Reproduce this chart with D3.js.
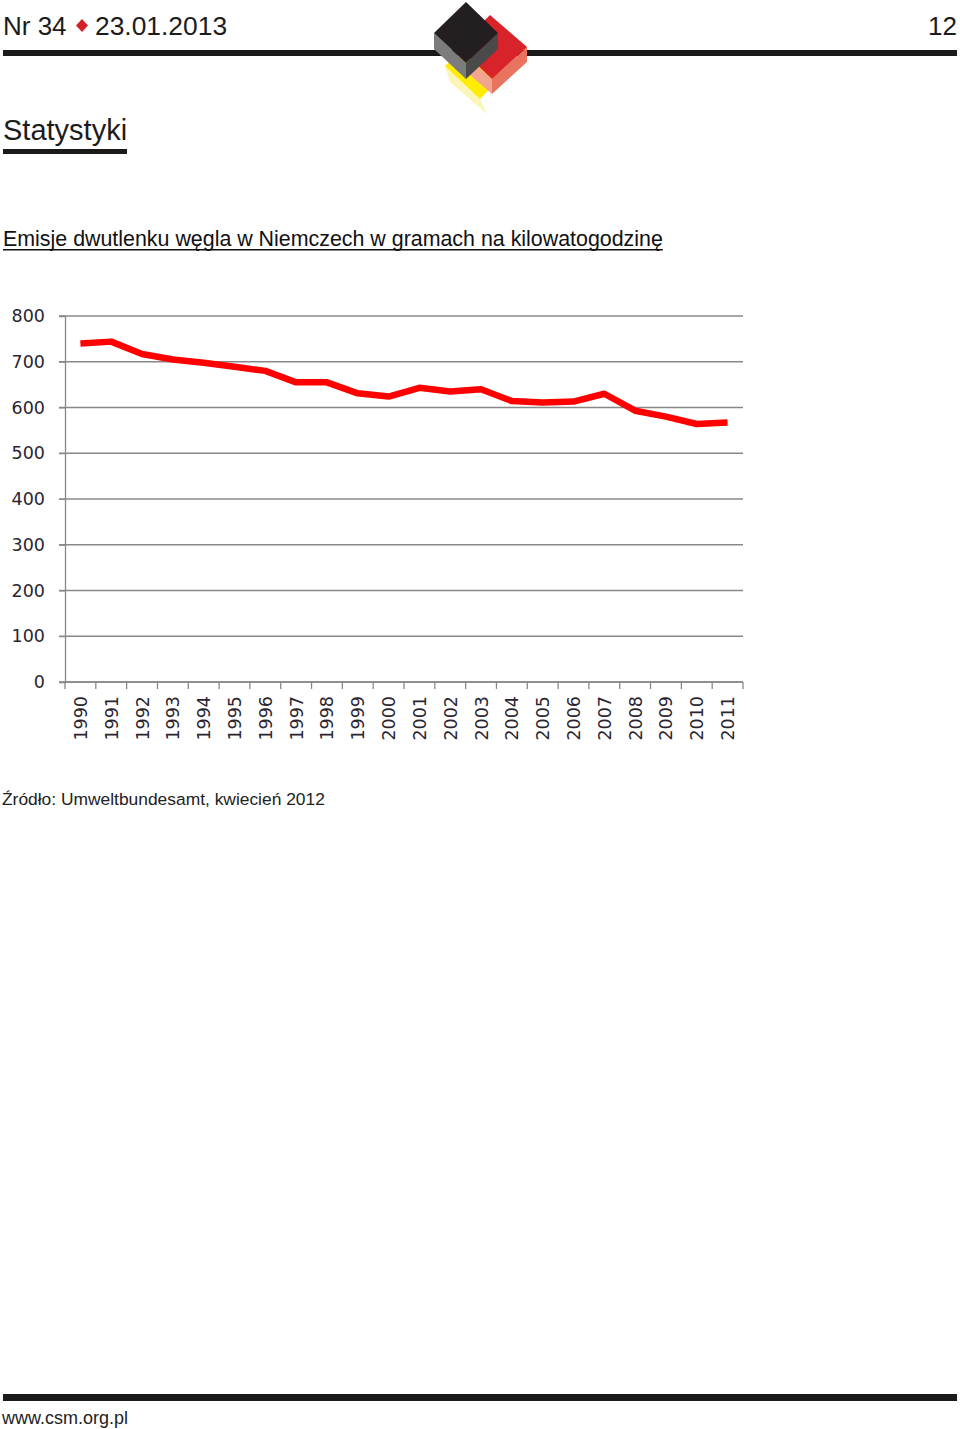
<!DOCTYPE html>
<html>
<head>
<meta charset="utf-8">
<script src="https://cdn.jsdelivr.net/npm/d3@7"></script>
<style>
  html, body { margin: 0; padding: 0; background: #fff; }
  svg { display: block; }
</style>
</head>
<body>
<svg id="page" width="960" height="1429"></svg>
<script>
// ---- data ----
const years = ["1990","1991","1992","1993","1994","1995","1996","1997","1998","1999","2000",
               "2001","2002","2003","2004","2005","2006","2007","2008","2009","2010","2011"];
const emissions = [740, 744, 717, 705, 698, 689, 680, 655, 655, 631, 624,
                   643, 635, 640, 614, 611, 613, 630, 593, 580, 564, 567];
const yTicks = [0, 100, 200, 300, 400, 500, 600, 700, 800];

const headerLeft = "Nr 34";
const headerDate = "23.01.2013";
const pageNumber = "12";
const sectionTitle = "Statystyki";
const chartTitle = "Emisje dwutlenku węgla w Niemczech w gramach na kilowatogodzinę";
const sourceText = "Źródło: Umweltbundesamt, kwiecień 2012";
const footerText = "www.csm.org.pl";

const svg = d3.select("#page");
const sans = "'Liberation Sans', Arial, Helvetica, sans-serif";

// ---- header ----
svg.append("text").attr("x", 3).attr("y", 35).attr("font-family", sans)
  .attr("font-size", 26).attr("fill", "#1c1c1c").text(headerLeft);
svg.append("path").attr("d", "M82,19 L88,25.5 L82,32 L76,25.5 Z").attr("fill", "#d42027");
svg.append("text").attr("x", 95).attr("y", 35).attr("font-family", sans)
  .attr("font-size", 26.4).attr("fill", "#1c1c1c").text(headerDate);
svg.append("text").attr("x", 957).attr("y", 35).attr("text-anchor", "end").attr("font-family", sans)
  .attr("font-size", 26).attr("fill", "#1c1c1c").text(pageNumber);
svg.append("rect").attr("x", 3).attr("y", 50).attr("width", 954).attr("height", 6).attr("fill", "#1a1a1a");

// ---- logo ----
const logo = svg.append("g");
const poly = (pts, fill) => logo.append("polygon").attr("points", pts.map(p => p.join(",")).join(" ")).attr("fill", fill);
poly([[445,66],[480,99],[487,114],[450,82]], "#fbf6b8");
poly([[445,66],[468,46],[502,76],[480,99]], "#ffec00");
poly([[492,79],[527,47],[527,62],[492,94]], "#e8735e");
poly([[470,60],[492,79],[492,94],[470,75]], "#f2a48e");
poly([[490,15],[527,47],[492,79],[458,47]], "#d9232b");
poly([[434,33],[466,63],[466,79],[434,49]], "#7c7c7c");
poly([[466,63],[498,33],[498,49],[466,79]], "#4a4a4a");
poly([[466,2],[498,33],[466,63],[434,33]], "#231f20");

// ---- section title ----
svg.append("text").attr("x", 3).attr("y", 140).attr("font-family", sans)
  .attr("font-size", 29).attr("fill", "#1c1c1c").text(sectionTitle);
svg.append("rect").attr("x", 3).attr("y", 149).attr("width", 124).attr("height", 5).attr("fill", "#1a1a1a");

// ---- chart title ----
const ct = svg.append("text").attr("x", 3).attr("y", 246).attr("font-family", sans)
  .attr("font-size", 21.4).attr("fill", "#111").text(chartTitle);
const ctw = ct.node().getComputedTextLength();
svg.append("rect").attr("x", 3).attr("y", 249).attr("width", ctw).attr("height", 1.5).attr("fill", "#111");

// ---- chart ----
const pL = 65, pR = 743, pT = 316, pB = 682;
const x = d3.scaleBand().domain(years).range([pL, pR]).padding(0);
const y = d3.scaleLinear().domain([0, 800]).range([pB, pT]);
const g = svg.append("g");
const axisFont = "'DejaVu Sans', Verdana, sans-serif";
const axisColor = "#888";
const labelColor = "#2a2530";

g.append("g").selectAll("line").data(yTicks).join("line")
  .attr("x1", pL - 6).attr("x2", pR)
  .attr("y1", d => y(d)).attr("y2", d => y(d))
  .attr("stroke", axisColor).attr("stroke-width", 1.3);

const yAxis = g.append("g").attr("transform", `translate(${pL},0)`)
  .call(d3.axisLeft(y).tickValues(yTicks).tickSize(6).tickPadding(14).tickFormat(d3.format("d")));
yAxis.select(".domain").attr("stroke", axisColor).attr("stroke-width", 1.3);
yAxis.selectAll(".tick line").attr("stroke", axisColor);
yAxis.selectAll("text").attr("font-family", axisFont).attr("font-size", 17.5).attr("fill", labelColor);

const boundaries = years.map(d => x(d)).concat([pR]);
g.append("g").selectAll("line").data(boundaries).join("line")
  .attr("x1", d => d).attr("x2", d => d).attr("y1", pB).attr("y2", pB + 7)
  .attr("stroke", axisColor).attr("stroke-width", 1.3);
g.append("line").attr("x1", pL).attr("x2", pR).attr("y1", pB).attr("y2", pB)
  .attr("stroke", axisColor).attr("stroke-width", 1.3);
g.append("g").selectAll("text").data(years).join("text")
  .attr("transform", d => `translate(${x(d) + x.bandwidth() / 2 + 6.5},${pB + 14}) rotate(-90)`)
  .attr("text-anchor", "end")
  .attr("font-family", axisFont).attr("font-size", 17.5).attr("fill", labelColor)
  .text(d => d);

const line = d3.line().x((d, i) => x(years[i]) + x.bandwidth() / 2).y(d => y(d));
g.append("path").datum(emissions).attr("d", line)
  .attr("fill", "none").attr("stroke", "#ff0000").attr("stroke-width", 6.5)
  .attr("stroke-linejoin", "round").attr("stroke-linecap", "butt");

// ---- source ----
svg.append("text").attr("x", 2).attr("y", 805).attr("font-family", sans)
  .attr("font-size", 17.4).attr("fill", "#222").text(sourceText);

// ---- footer ----
svg.append("rect").attr("x", 3).attr("y", 1394).attr("width", 954).attr("height", 7).attr("fill", "#1a1a1a");
svg.append("text").attr("x", 2).attr("y", 1424).attr("font-family", sans)
  .attr("font-size", 18).attr("fill", "#222").text(footerText);
</script>
</body>
</html>
